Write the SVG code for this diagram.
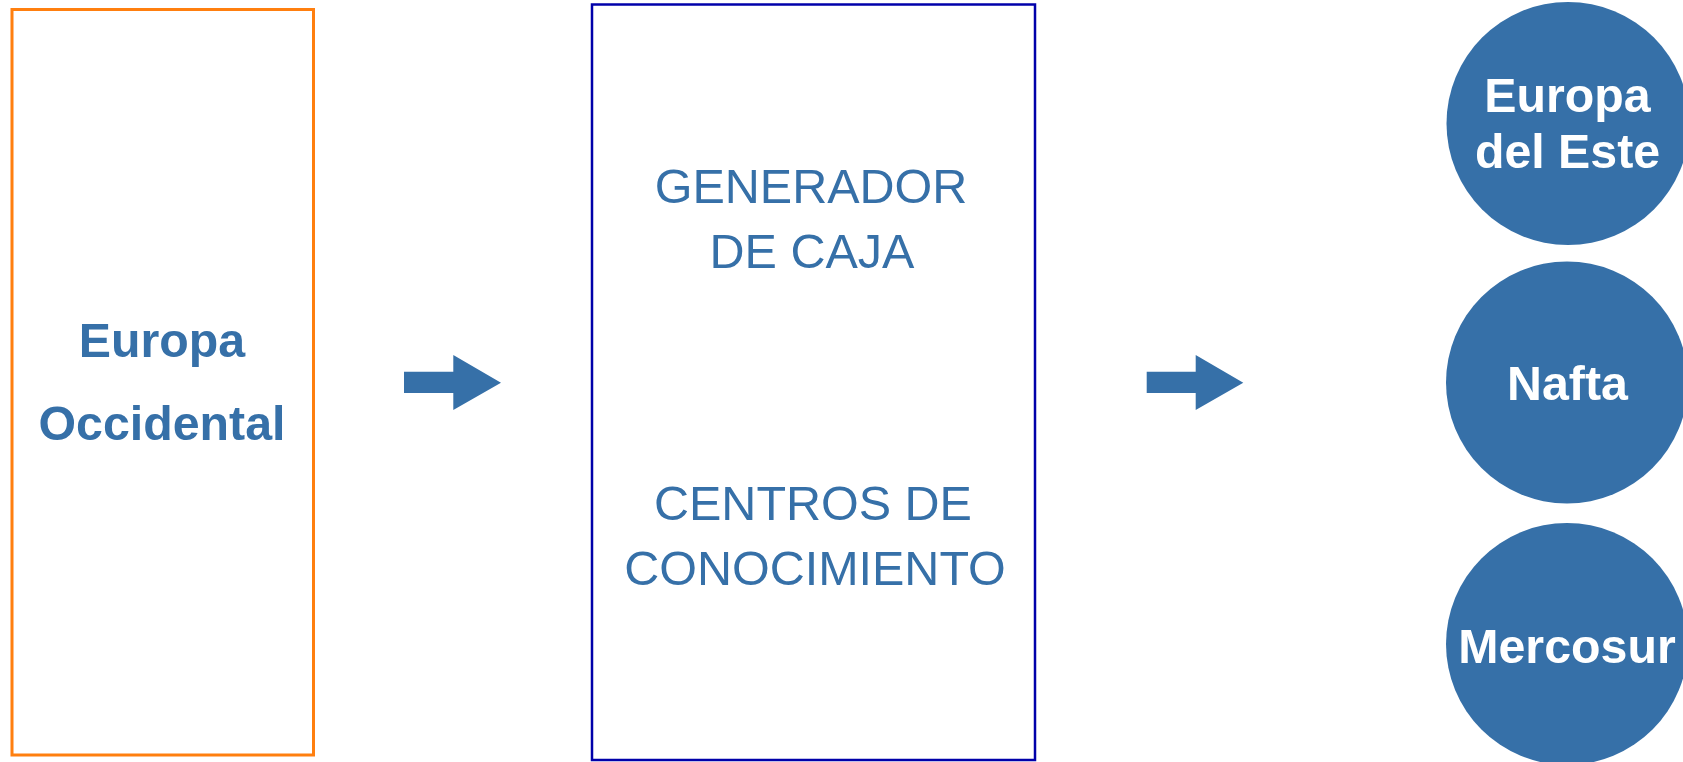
<svg xmlns="http://www.w3.org/2000/svg" width="1683" height="762" viewBox="0 0 1683 762">
<style>
.bold{font-family:"Liberation Sans",Arial,sans-serif;font-weight:bold;font-size:48.3px;text-anchor:middle}
.reg{font-family:"Liberation Sans",Arial,sans-serif;font-size:48.5px;text-anchor:middle;fill:#3670A8}
.circ{fill:#3670A8}
.arrow{fill:#3670A8}
</style>
<rect width="1683" height="762" fill="#FFFFFF"/>
<g id="europa-occidental">
<rect x="12" y="9.5" width="301.5" height="745.5" fill="none" stroke="#FF7F0F" stroke-width="3"/>
<text class="bold" x="162" y="356.5" fill="#3670A8">Europa</text>
<text class="bold" x="162" y="440" fill="#3670A8">Occidental</text>
</g>
<g id="centro">
<rect x="592" y="4.5" width="443" height="755.5" fill="none" stroke="#0000AA" stroke-width="2.5"/>
<text class="reg" x="811" y="202.5">GENERADOR</text>
<text class="reg" x="812" y="268">DE CAJA</text>
<text class="reg" x="813" y="520">CENTROS DE</text>
<text class="reg" x="815" y="585">CONOCIMIENTO</text>
</g>
<g id="europa-del-este">
<circle class="circ" cx="1568" cy="123.5" r="121.5"/>
<text class="bold" x="1567.5" y="111.5" fill="#FFFFFF">Europa</text>
<text class="bold" x="1567.5" y="167.5" fill="#FFFFFF">del Este</text>
</g>
<g id="nafta">
<circle class="circ" cx="1567" cy="382.5" r="121"/>
<text class="bold" x="1567.5" y="399.5" fill="#FFFFFF">Nafta</text>
</g>
<g id="mercosur">
<circle class="circ" cx="1567" cy="644" r="121"/>
<text class="bold" x="1567" y="663" fill="#FFFFFF">Mercosur</text>
</g>
<g id="connectors">
<polygon class="arrow" points="404,371.7 453.3,371.7 453.3,355 501,382.7 453.3,410 453.3,393 404,393"/>
<polygon class="arrow" points="1146.7,371.7 1195.7,371.7 1195.7,355 1243.3,382.7 1195.7,410 1195.7,393 1146.7,393"/>
</g>
</svg>
